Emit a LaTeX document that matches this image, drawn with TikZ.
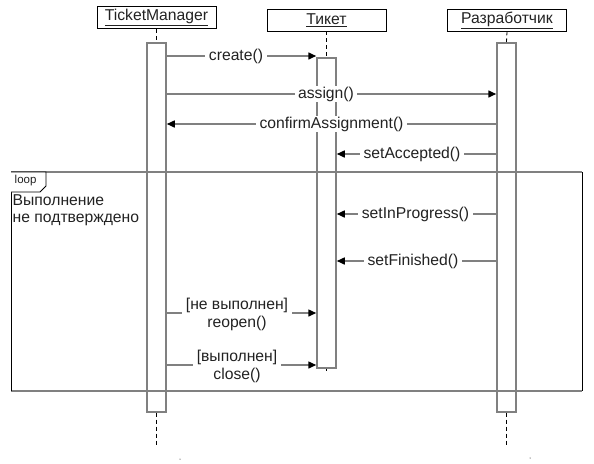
\documentclass[tikz,border=0pt]{standalone}
\usepackage{fontspec}
\setmainfont{Liberation Sans}
\usetikzlibrary{arrows.meta}
\definecolor{linec}{HTML}{808080}
\definecolor{textc}{HTML}{222222}
\begin{document}
\begin{tikzpicture}[x=1pt,y=-1pt,
  txt/.style={font=\fontsize{15.7}{18}\selectfont, text=textc},
  head/.style={txt, draw=black, line width=0.8pt, minimum width=119pt, minimum height=22pt, inner sep=0pt},
  act/.style={draw=linec, line width=1.5pt, minimum width=19pt, inner sep=0pt, anchor=north},
  msg/.style={draw=linec, line width=1.5pt, -{Triangle[length=8pt,width=7pt,color=black]}},
  lbl/.style={txt, fill=white, inner xsep=3.5pt, inner ysep=1pt, align=center},
  life/.style={draw=black, line width=0.8pt, dash pattern=on 4pt off 3pt},
  framev/.style={draw=black, line width=0.8pt},
  frameh/.style={draw=linec, line width=1.5pt}]
\useasboundingbox (0,0) rectangle (594,463);

% headers
\node[head] (tm) at (156.5,17.5) {\underline{TicketManager}};
\node[head] (tk) at (326.5,20) {\underline{Тикет}};
\node[head] (dev) at (507,20) {\underline{Разработчик}};

% activations
\node[act, minimum height=369pt] (tma) at (156.5,42) {};
\node[act, minimum height=310pt] (tka) at (326.5,57) {};
\node[act, minimum height=369pt] (deva) at (506.5,42) {};

% lifelines
\coordinate (tmend) at (156.5,446);
\coordinate (tkend) at (326.5,371);
\coordinate (devend) at (506.5,447);
\draw[life] (tm.south) -- (tma.north);
\draw[life] (tk.south) -- (tka.north);
\draw[life] (dev.south) -- (deva.north);
\draw[life] (tma.south) -- (tmend);
\draw[life] (tka.south) -- (tkend);
\draw[life] (deva.south) -- (devend);

% y levels
\coordinate (y1) at (0,56);
\coordinate (y2) at (0,94);
\coordinate (y3) at (0,124);
\coordinate (y4) at (0,154);
\coordinate (y5) at (0,214);
\coordinate (y6) at (0,261);
\coordinate (y7) at (0,313);
\coordinate (y8) at (0,365);

% messages
\draw[msg] (tma.east |- y1) -- (tka.west |- y1);
\node[lbl] (l1) at (236,56) {create()};
\draw[msg] (tma.east |- y2) -- (deva.west |- y2);
\node[lbl] (l2) at (326,94) {assign()};
\draw[msg] (deva.west |- y3) -- (tma.east |- y3);
\node[lbl] (l3) at (331.5,124) {confirmAssignment()};
\draw[msg] (deva.west |- y4) -- (tka.east |- y4);
\node[lbl] (l4) at (412,154) {setAccepted()};
\draw[msg] (deva.west |- y5) -- (tka.east |- y5);
\node[lbl] (l5) at (415.5,214) {setInProgress()};
\draw[msg] (deva.west |- y6) -- (tka.east |- y6);
\node[lbl] (l6) at (413,261) {setFinished()};
\draw[msg] (tma.east |- y7) -- (tka.west |- y7);
\node[lbl] (l7) at (237,314) {[не выполнен]\\reopen()};
\draw[msg] (tma.east |- y8) -- (tka.west |- y8);
\node[lbl] (l8) at (237,366) {[выполнен]\\close()};

% loop frame
\draw[frameh] (11,172) -- (582,172);
\draw[frameh] (11,391) -- (582,391);
\draw[framev] (11,172) -- (11,391);
\draw[framev] (582,172) -- (582,391);
\draw[draw=black, line width=0.8pt, fill=white] (11,172) -- (46,172) -- (46,186) -- (40,192) -- (11,192);
\node[font=\fontsize{11.5}{13}\selectfont, text=textc, anchor=west, inner sep=0pt] (looplbl) at (14.5,180.5) {loop};
\node[txt, anchor=west, align=left, inner sep=0pt, font=\fontsize{15.7}{17.5}\selectfont] (cond) at (12.5,210) {Выполнение\\не подтверждено};

% small dots
\fill[black] (180,459) circle (0.5pt);
\fill[black] (530,458) circle (0.5pt);
\end{tikzpicture}
\end{document}
